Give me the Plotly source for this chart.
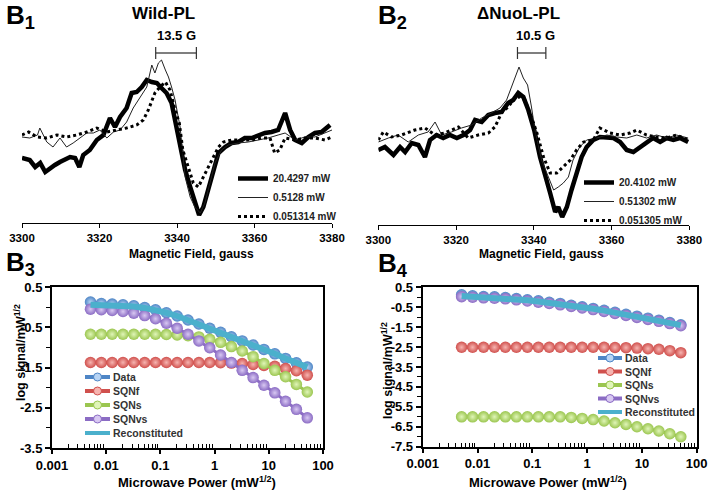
import plotly.graph_objects as go

W, H = 711, 492

# ---------------- B1: Wild-PL EPR spectra (field in gauss, signal in arbitrary units) ----------------
B1_HI_FIELD = [3300, 3302, 3303.4, 3304.7, 3306, 3307.2, 3308.5, 3309.8, 3311, 3312.4, 3313.7, 3314.8,
               3315.8, 3317.5, 3319.3, 3321, 3322.7, 3324, 3325.3, 3327, 3328.3, 3329.6, 3330.9, 3332.2,
               3333.5, 3334.8, 3336, 3337.3, 3338.6, 3339.9, 3340.8, 3342.1, 3343.4, 3344.6, 3345.7, 3346.8,
               3348.1, 3349.4, 3350.7, 3352.4, 3354.1, 3355.8, 3357.5, 3359.3, 3361, 3362.7, 3364.4, 3366.1,
               3367.9, 3369.2, 3370.5, 3372.2, 3373.9, 3375.6, 3377.3, 3379.5]
B1_HI_SIG = [-18, -20, -27, -23, -32, -28, -25, -22, -20, -17, -18, -27,
             -15, -10, 0, 5, 22, 13, 23, 32, 47, 48, 53, 60,
             58, 57, 52, 47, 37, 12, -7, -30, -47, -60, -75, -67,
             -50, -30, -13, -7, -3, -2, 2, 2, 5, 7, 8, 10,
             27, 10, 0, -3, 3, 7, 8, 15]

B1_MID_FIELD = [3300, 3302, 3304, 3304.6, 3306.4, 3308, 3309.8, 3311.5, 3313.2, 3315, 3316.7, 3318.4,
                3320.1, 3321.9, 3323.6, 3325.3, 3327, 3328.7, 3330.5, 3332.2, 3333.5, 3334.3, 3335.2, 3336,
                3337, 3337.8, 3338.6, 3339.5, 3340.8, 3342.1, 3343.4, 3344.6, 3346, 3347.2, 3348.5, 3349.8,
                3351.5, 3353.2, 3355.8, 3358.4, 3361, 3363.5, 3366.1, 3367.9, 3370.5, 3373, 3375.6, 3378.2, 3380]
B1_MID_SIG = [3, 2, 5, 12, -2, -7, 2, -7, -3, 2, 7, 7,
              10, 2, 8, 10, 18, 32, 43, 53, 75, 67, 77, 80,
              70, 63, 53, 40, 13, -37, -57, -67, -73, -63, -43, -23,
              -10, -5, -3, -2, 0, 2, 5, 7, 0, 3, 3, 7, 10]

B1_LO_FIELD = [3300, 3301.7, 3303.9, 3306.4, 3309, 3311.5, 3314.1, 3316.7, 3319.3, 3321.9, 3324.4, 3327,
               3329.6, 3331.3, 3332.6, 3333.5, 3334.3, 3335.6, 3337, 3338.2, 3339.5, 3340.6, 3341.5, 3342.9,
               3344.2, 3345.5, 3346.8, 3348.1, 3349.4, 3350.7, 3352, 3354.1, 3356.7, 3359.3, 3361.8, 3364,
               3365.2, 3366.5, 3367.9, 3370.5, 3373, 3375.6, 3378.2, 3380]
B1_LO_SIG = [5, 8, 3, 2, 5, 3, 5, 8, 12, 8, 10, 12,
             15, 20, 30, 40, 47, 53, 58, 50, 30, 17, -10, -27,
             -43, -47, -37, -27, -17, -7, -2, 0, 0, 0, 2, 2,
             -13, -10, 2, 0, 2, 2, 0, 3]

# ---------------- B2: dNuoL-PL EPR spectra ----------------
B2_HI_FIELD = [3300, 3301.7, 3303.9, 3305.6, 3306.9, 3308.6, 3310.3, 3312, 3313.3, 3315, 3316.7, 3318.4,
               3320.2, 3321.9, 3323.6, 3324.9, 3326.6, 3328.3, 3330, 3331.7, 3333.4, 3334.7, 3336, 3337.3,
               3338.6, 3340.1, 3341.6, 3342.9, 3344.2, 3345.5, 3346.3, 3347.3, 3348.5, 3349.7, 3351, 3352.3,
               3353.6, 3355.3, 3357, 3358.8, 3360.5, 3362.2, 3363.9, 3365.6, 3367.3, 3369, 3370.7, 3372.5,
               3374.2, 3375.9, 3377.6, 3379.7]
B2_HI_SIG = [-10, -7, -15, -7, -12, -3, -5, -17, 0, 5, 2, 5,
             2, 5, 10, 20, 18, 25, 27, 28, 37, 40, 47, 43,
             30, 10, -17, -37, -53, -72, -67, -77, -67, -50, -33, -17,
             -7, 0, 3, 2, 2, -2, -10, -12, -7, -2, 2, -2,
             2, 0, 2, -2]

B2_MID_FIELD = [3300, 3302.6, 3305.1, 3307.7, 3310.3, 3312.8, 3314.6, 3316.3, 3318.8, 3321.4, 3324, 3326.6,
                3329.1, 3331.3, 3333, 3334.3, 3335.1, 3336.2, 3337.3, 3338.4, 3339.4, 3340.3, 3342, 3343.8,
                3345.1, 3346.3, 3347.6, 3348.9, 3350.1, 3351.8, 3353.6, 3356.2, 3358.8, 3361.3, 3363.9, 3366.5,
                3369, 3371.6, 3374.2, 3376.7, 3379.7]
B2_MID_SIG = [-2, 2, 5, -2, 5, 8, 18, 5, 8, 12, 15, 22,
              27, 32, 40, 53, 63, 73, 62, 55, 33, 10, -20, -37,
              -50, -47, -43, -37, -20, -7, 0, 2, 5, 3, 2, 5,
              2, 5, 2, 5, 2]

B2_LO_FIELD = [3300, 3301.3, 3303.4, 3306, 3309.4, 3312, 3314.6, 3317.1, 3320.6, 3323.1, 3325.7, 3328.3,
               3330, 3331.7, 3333.4, 3335.1, 3336.4, 3337.7, 3339.4, 3340.8, 3342.5, 3344.2, 3345.9, 3347.6,
               3349.4, 3351, 3352.8, 3355.3, 3357, 3359.6, 3362.2, 3364.8, 3366.5, 3369, 3371.6, 3374.2,
               3376.7, 3379.7]
B2_LO_SIG = [0, 8, 3, 5, 10, 12, 5, 7, 13, 2, 5, 7,
             13, 27, 33, 42, 43, 40, 23, 7, -17, -33, -33, -27,
             -20, -10, -2, 0, 12, 7, 5, 7, 10, 5, 3, 2,
             5, 0]

B1_NAMES = ["20.4297 mW", "0.5128 mW", "0.051314 mW"]
B2_NAMES = ["20.4102 mW", "0.51302 mW", "0.051305 mW"]
B1_SPLIT = [3334.5, 3345.0]     # "13.5 G" marker
B2_SPLIT = [3335.8, 3343.1]     # "10.5 G" marker
FIELD_TICKS = [3300, 3320, 3340, 3360, 3380]

# ---------------- B3 / B4: power saturation ----------------
POWER = [0.00513, 0.00813, 0.0129, 0.0204, 0.0323, 0.0513, 0.0813, 0.129, 0.204, 0.323, 0.513,
         0.813, 1.29, 2.04, 3.23, 5.13, 8.13, 12.9, 20.4, 32.3, 51.3]
SERIES = ["Data", "SQNf", "SQNs", "SQNvs", "Reconstituted"]

B3_DATA = [0.125, 0.09, 0.075, 0.06, 0.035, -0.01, -0.065, -0.14, -0.22, -0.32, -0.42,
           -0.525, -0.625, -0.735, -0.84, -0.94, -1.05, -1.16, -1.275, -1.385, -1.49]
B3_SQNF = [-1.375, -1.375, -1.375, -1.375, -1.375, -1.375, -1.375, -1.375, -1.375, -1.375, -1.375,
           -1.375, -1.38, -1.39, -1.40, -1.425, -1.45, -1.47, -1.525, -1.58, -1.69]
B3_SQNS = [-0.675, -0.675, -0.675, -0.675, -0.675, -0.675, -0.675, -0.68, -0.69, -0.71, -0.74,
           -0.8, -0.875, -0.98, -1.09, -1.23, -1.4, -1.57, -1.73, -1.92, -2.11]
B3_SQNVS = [-0.05, -0.065, -0.085, -0.11, -0.15, -0.21, -0.29, -0.4, -0.525, -0.675, -0.84,
            -1.01, -1.19, -1.375, -1.57, -1.75, -1.94, -2.13, -2.34, -2.54, -2.75]
B3_RECON = [0.06, 0.055, 0.045, 0.035, 0.015, -0.02, -0.07, -0.14, -0.22, -0.32, -0.42,
            -0.525, -0.63, -0.735, -0.84, -0.945, -1.05, -1.16, -1.275, -1.385, -1.49]

B4_DATA = [0.12, 0.07, 0.04, 0.02, -0.01, -0.06, -0.13, -0.18, -0.25, -0.31, -0.4,
           -0.48, -0.56, -0.65, -0.75, -0.85, -0.95, -1.05, -1.15, -1.27, -1.38]
B4_SQNF = [-2.51, -2.51, -2.51, -2.51, -2.51, -2.51, -2.51, -2.51, -2.51, -2.51, -2.51,
           -2.51, -2.51, -2.51, -2.52, -2.53, -2.55, -2.58, -2.61, -2.68, -2.78]
B4_SQNS = [-6.0, -6.0, -6.0, -6.0, -6.0, -6.0, -6.0, -6.0, -6.0, -6.0, -6.03,
           -6.08, -6.14, -6.21, -6.3, -6.38, -6.5, -6.6, -6.71, -6.85, -7.0]
B4_SQNVS = [0.03, 0.0, -0.03, -0.05, -0.08, -0.13, -0.19, -0.25, -0.31, -0.38, -0.46,
            -0.54, -0.62, -0.71, -0.81, -0.91, -1.01, -1.11, -1.21, -1.32, -1.43]
B4_RECON = [0.06, 0.03, 0.01, -0.01, -0.04, -0.09, -0.15, -0.21, -0.27, -0.34, -0.42,
            -0.5, -0.58, -0.67, -0.77, -0.87, -0.97, -1.07, -1.17, -1.29, -1.40]

POWER_TICKS = [0.001, 0.01, 0.1, 1, 10, 100]
POWER_TICK_TEXT = ["0.001", "0.01", "0.1", "1", "10", "100"]
B3_YTICKS = [0.5, -0.5, -1.5, -2.5, -3.5]
B4_YTICKS = [0.5, -0.5, -1.5, -2.5, -3.5, -4.5, -5.5, -6.5, -7.5]

# ---------------- styling ----------------
FONT = "Liberation Sans, Arial, sans-serif"
COLORS = {"Data": "#4F86C6", "SQNf": "#D0504D", "SQNs": "#9BC650", "SQNvs": "#8B6CC4",
          "Reconstituted": "#4BB0CC"}
LIGHT = {"Data": "#B8D4F4", "SQNf": "#F6B4B0", "SQNs": "#E0F5B8", "SQNvs": "#D8C8F2",
         "Reconstituted": "#B0E4F0"}


def px(x):
    return x / W


def py(y):
    return 1 - y / H


fig = go.Figure()

# spectra
spec_styles = [dict(color="black", width=4.5), dict(color="#222", width=1), dict(color="black", width=3, dash="dot")]
for (fields, sigs, names, xa, ya, lg) in [
    ((B1_HI_FIELD, B1_MID_FIELD, B1_LO_FIELD), (B1_HI_SIG, B1_MID_SIG, B1_LO_SIG), B1_NAMES, "x", "y", "legend"),
    ((B2_HI_FIELD, B2_MID_FIELD, B2_LO_FIELD), (B2_HI_SIG, B2_MID_SIG, B2_LO_SIG), B2_NAMES, "x2", "y2", "legend2"),
]:
    for f, s, n, st in zip(fields, sigs, names, spec_styles):
        fig.add_trace(go.Scatter(x=f, y=s, mode="lines", name=n, line=st, xaxis=xa, yaxis=ya,
                                 legend=lg, showlegend=True))

# power saturation
for vals, xa, ya in [((B3_DATA, B3_SQNF, B3_SQNS, B3_SQNVS, B3_RECON), "x3", "y3"),
                     ((B4_DATA, B4_SQNF, B4_SQNS, B4_SQNVS, B4_RECON), "x4", "y4")]:
    for name, v in zip(SERIES, vals):
        if name == "Reconstituted":
            fig.add_trace(go.Scatter(x=POWER, y=v, mode="lines", name=name, xaxis=xa, yaxis=ya,
                                     line=dict(color=COLORS[name], width=6), showlegend=False))
        else:
            fig.add_trace(go.Scatter(
                x=POWER, y=v, mode="lines+markers", name=name, xaxis=xa, yaxis=ya, showlegend=False,
                line=dict(color=COLORS[name], width=3),
                marker=dict(size=11.5, color=COLORS[name], line=dict(width=0),
                            gradient=dict(type="radial", color=LIGHT[name]))))

shapes = []
annotations = []

# splitting brackets (data coordinates)
for split, xa, ya in [(B1_SPLIT, "x", "y"), (B2_SPLIT, "x2", "y2")]:
    shapes.append(dict(type="line", xref=xa, yref=ya, x0=split[0], x1=split[1], y0=87, y1=87,
                       line=dict(color="#555", width=1.5)))
    for xv in split:
        shapes.append(dict(type="line", xref=xa, yref=ya, x0=xv, x1=xv, y0=81, y1=93,
                           line=dict(color="#333", width=1.2)))

# manual legends for the power-saturation panels
def legend_block(x0, x1, rows):
    for name, yr in zip(SERIES, rows):
        shapes.append(dict(type="line", xref="paper", yref="paper", x0=px(x0), x1=px(x1),
                           y0=py(yr), y1=py(yr), line=dict(color=COLORS[name], width=4)))
        if name != "Reconstituted":
            xc = (x0 + x1) / 2
            shapes.append(dict(type="circle", xref="paper", yref="paper", x0=px(xc - 4), x1=px(xc + 4),
                               y0=py(yr + 4), y1=py(yr - 4), fillcolor=LIGHT[name],
                               line=dict(color=COLORS[name], width=1)))
        annotations.append(dict(text=name, xref="paper", yref="paper", x=px(x1 + 0.5), y=py(yr),
                                xanchor="left", yanchor="middle", showarrow=False,
                                font=dict(family=FONT, size=10.5, color="#333", weight="bold")))


legend_block(85, 110, [377, 391, 405, 419, 433])
legend_block(598, 622, [358, 371.5, 385, 398.5, 412])


def text(t, x, y, size, anchor="center", angle=0, weight="bold"):
    annotations.append(dict(text=t, xref="paper", yref="paper", x=px(x), y=py(y), xanchor=anchor,
                            yanchor="middle", showarrow=False, textangle=angle,
                            font=dict(family=FONT, size=size, color="black", weight=weight)))


text("B<sub>1</sub>", 4, 16.5, 26, "left")
text("B<sub>2</sub>", 376, 16.5, 26, "left")
text("B<sub>3</sub>", 4, 263, 26, "left")
text("B<sub>4</sub>", 376, 264, 26, "left")
text("Wild-PL", 163, 14, 17)
text("\u0394NuoL-PL", 518, 14, 17)
text("13.5 G", 176, 35, 13)
text("10.5 G", 535, 35, 13)
text("Magnetic Field, gauss", 192, 254, 12)
text("Magnetic Field, gauss", 541, 254, 12)
text("Microwave Power (mW<sup>1/2</sup>)", 197, 482, 13)
text("Microwave Power (mW<sup>1/2</sup>)", 548, 482, 13)
text("log signal/mW<sup>1/2</sup>", 20, 353, 12.5, angle=-90)
text("log signal/mW<sup>1/2</sup>", 387, 371, 12.5, angle=-90)

tickfont_top = dict(family=FONT, size=11.5, color="black", weight="bold")
tickfont_bot = dict(family=FONT, size=13, color="black", weight="bold")

spec_x = dict(range=[3300, 3380], tickvals=FIELD_TICKS, ticks="outside", ticklen=4, tickwidth=1,
              tickcolor="black", showline=True, linecolor="black", linewidth=1, showgrid=False,
              zeroline=False, tickfont=tickfont_top)
log_minor = [m * 10 ** e for e in range(-3, 2) for m in range(2, 10)]
pow_x = dict(type="log", range=[-3, 2], tickvals=POWER_TICKS, ticktext=POWER_TICK_TEXT, ticks="outside",
             ticklen=4, tickwidth=1.5, tickcolor="black", showline=True, mirror=True, linecolor="black",
             linewidth=2, showgrid=False, zeroline=False, tickfont=tickfont_bot,
             minor=dict(tickvals=log_minor, ticks="inside", ticklen=4, tickwidth=1, tickcolor="black"))


def pow_y(ticks, rng, minor):
    return dict(range=rng, tickvals=ticks, ticktext=[str(t) for t in ticks], ticks="outside", ticklen=5,
                tickwidth=1.5, tickcolor="black", showline=True, mirror=True, linecolor="black",
                linewidth=2, showgrid=False, zeroline=False, tickfont=tickfont_bot,
                minor=dict(tickvals=minor, ticks="outside", ticklen=4, tickwidth=1, tickcolor="black"))


legend_common = dict(bgcolor="rgba(0,0,0,0)", borderwidth=0, itemwidth=30, tracegroupgap=0,
                     xanchor="left", yanchor="top",
                     font=dict(family=FONT, size=10, color="#222", weight="bold"))

fig.update_layout(
    width=W, height=H, margin=dict(l=0, r=0, t=0, b=0, autoexpand=False),
    paper_bgcolor="white", plot_bgcolor="white",
    font=dict(family=FONT, color="black"),
    xaxis=dict(domain=[px(22), px(332)], anchor="y", **spec_x),
    yaxis=dict(domain=[py(223), py(45)], range=[-83, 95], visible=False, anchor="x"),
    xaxis2=dict(domain=[px(378.3), px(689.3)], anchor="y2", **spec_x),
    yaxis2=dict(domain=[py(225), py(45)], range=[-85, 95], visible=False, anchor="x2"),
    xaxis3=dict(domain=[px(52), px(323)], anchor="y3", **pow_x),
    yaxis3=dict(domain=[py(448), py(287)], anchor="x3", **pow_y(B3_YTICKS, [-3.5, 0.5], [0, -1, -2, -3])),
    xaxis4=dict(domain=[px(422.7), px(696.7)], anchor="y4", **pow_x),
    yaxis4=dict(domain=[py(446.7), py(287.3)], anchor="x4",
                **pow_y(B4_YTICKS, [-7.5, 0.5], [0, -1, -2, -3, -4, -5, -6, -7])),
    legend=dict(x=px(233), y=py(164), **legend_common),
    legend2=dict(x=px(579), y=py(168), **legend_common),
    shapes=shapes, annotations=annotations,
)

fig.write_html("out.html", config={"displayModeBar": False},
               post_script="document.body.style.margin='0px';")
